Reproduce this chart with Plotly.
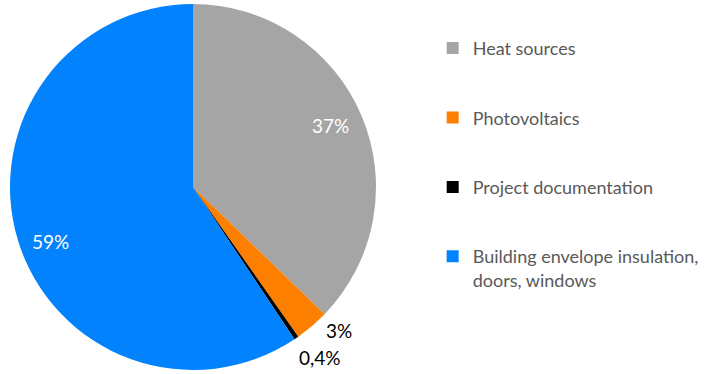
import math
import plotly.graph_objects as go

categories = ["Heat sources", "Photovoltaics", "Project documentation",
              "Building envelope insulation,<br>doors, windows"]
shares = [37, 3, 0.4, 59]
colors = ["#a5a5a5", "#fd7f00", "#000000", "#0282fc"]

# label placement: radius as a fraction of the pie radius, angular nudge in degrees
label_r = [0.82, 1.12, 1.16, 0.835]
label_nudge = [-1.0, -5.0, -2.3, -4.0]
label_col = ["#ffffff", "#000000", "#000000", "#ffffff"]

FONT = "Lato, 'DejaVu Sans', sans-serif"
W, H = 707, 374
CX, CY, R = 193, 187, 183

labels_txt = [f"{v:g}%".replace(".", ",") for v in shares]

fig = go.Figure()
fig.add_trace(go.Pie(
    labels=categories,
    values=shares,
    textinfo="none",
    marker=dict(colors=colors, line=dict(width=0)),
    sort=False,
    direction="clockwise",
    rotation=0,
    showlegend=False,
    domain=dict(x=[(CX - R) / W, (CX + R) / W],
                y=[(H - CY - R) / H, (H - CY + R) / H]),
))

# percentage labels at each slice's mid-angle
total = sum(shares)
cum = 0.0
for v, txt, rf, nd, col in zip(shares, labels_txt, label_r, label_nudge, label_col):
    mid = (cum + v / 2) / total * 360 + nd
    cum += v
    a = math.radians(mid)
    px = CX + rf * R * math.sin(a)
    py = CY - rf * R * math.cos(a)
    fig.add_annotation(
        x=px / W, y=1 - py / H, xref="paper", yref="paper",
        text=txt, showarrow=False, xanchor="center", yanchor="middle",
        font=dict(family=FONT, size=19, color=col),
    )

# legend entries, one group each so they can be spaced apart
for name, col in zip(categories, colors):
    fig.add_trace(go.Scatter(
        x=[None], y=[None], mode="markers", name=name,
        legendgroup=name,
        marker=dict(symbol="square", size=12, color=col),
    ))

fig.update_layout(
    width=W, height=H,
    margin=dict(l=0, r=0, t=0, b=0),
    paper_bgcolor="white", plot_bgcolor="white",
    xaxis=dict(visible=False), yaxis=dict(visible=False),
    showlegend=True,
    legend=dict(
        x=0.612, y=0.92, xanchor="left", yanchor="top",
        font=dict(family=FONT, size=18, color="#595959"),
        tracegroupgap=43, valign="top", itemwidth=30,
        bgcolor="rgba(0,0,0,0)",
    ),
)

fig.write_html("out.html")
